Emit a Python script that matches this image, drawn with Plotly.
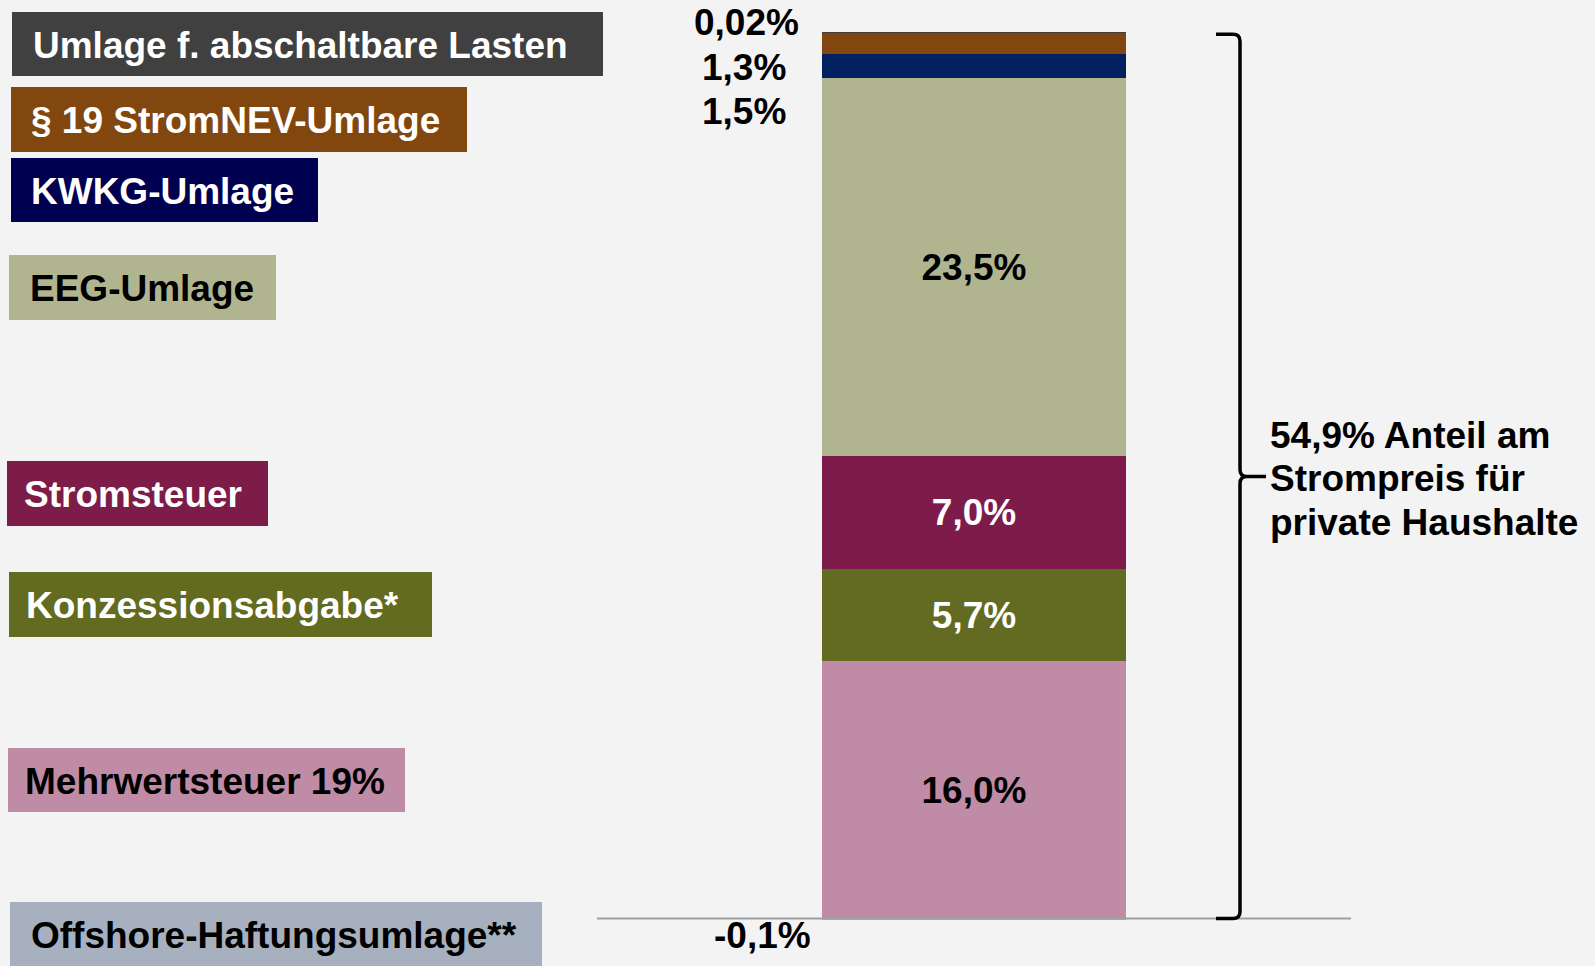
import plotly.graph_objects as go

W, H = 1595, 966

# ---------------- data ----------------
categories = ["Mehrwertsteuer 19%", "Konzessionsabgabe*", "Stromsteuer", "EEG-Umlage",
              "KWKG-Umlage", "§ 19 StromNEV-Umlage", "Umlage f. abschaltbare Lasten",
              "Offshore-Haftungsumlage**"]
values = [16.0, 5.7, 7.0, 23.5, 1.5, 1.3, 0.02, -0.1]
value_labels = ["16,0%", "5,7%", "7,0%", "23,5%", "1,5%", "1,3%", "0,02%", "-0,1%"]
total_label_lines = ["54,9% Anteil am", "Strompreis für", "private Haushalte"]

# ---------------- styles ----------------
bar_colors = ["#c08ba6", "#626b21", "#7d1c4a", "#b0b590", "#002060", "#82470e", "#404040", "#a6b0be"]
box_colors = ["#c08ba5", "#626b20", "#7d1b49", "#b0b590", "#000050", "#82470e", "#404040", "#a6b0be"]
text_colors = ["black", "white", "white", "black", "white", "white", "white", "black"]
inside = [True, True, True, True, False, False, False, False]
# legend boxes in pixels: left, top, right, bottom, text-x, text-center-y
boxes = [
    (8, 748, 405, 812, 24, 781),
    (9, 572, 432, 637, 25, 605),
    (7, 461, 268, 526, 23, 494),
    (9, 255, 276, 320, 29, 288),
    (11, 158, 318, 222, 30, 191),
    (11, 87, 467, 152, 30, 120),
    (12, 12, 603, 76, 32, 45),
    (10, 902, 542, 970, 30, 935),
]
# outside label positions: (x right edge px, y center px) for small segments
outside_pos = {4: (787, 111), 5: (787, 67), 6: (800, 22.5), 7: (812, 935)}

FONT = "Liberation Sans, Arial, sans-serif"
FS = 37

# pixel mapping of data axes
x_center_px, bar_px = 974, 304
y0_px, px_per_unit = 918.5, 16.1
xr = [-x_center_px / bar_px, (W - x_center_px) / bar_px]
yr = [-(H - y0_px) / px_per_unit, y0_px / px_per_unit]

def px2x(px):
    return (px - x_center_px) / bar_px

def py2y(py):
    return (y0_px - py) / px_per_unit

fig = go.Figure()
for i, (cat, v) in enumerate(zip(categories, values)):
    fig.add_trace(go.Bar(
        x=[0], y=[v], width=[1], name=cat,
        marker=dict(color=bar_colors[i], line=dict(width=0)),
        text=[f"<b>{value_labels[i]}</b>"] if inside[i] else None,
        textposition="inside" if inside[i] else "none",
        insidetextanchor="middle", textangle=0,
        textfont=dict(family=FONT, size=FS, color=text_colors[i]),
        showlegend=False, hoverinfo="name+y",
    ))

annotations = []
shapes = []

# legend boxes
for i, cat in enumerate(categories):
    l, t, r, b, tx, ty = boxes[i]
    shapes.append(dict(type="rect", xref="paper", yref="paper",
                       x0=l / W, x1=r / W, y0=1 - b / H, y1=1 - t / H,
                       fillcolor=box_colors[i], line=dict(width=0), layer="above"))
    annotations.append(dict(xref="paper", yref="paper", x=tx / W, y=1 - ty / H,
                            xanchor="left", yanchor="middle", showarrow=False, borderpad=0,
                            text=f"<b>{cat}</b>",
                            font=dict(family=FONT, size=FS, color=text_colors[i])))

# outside value labels
for i, (xp, yp) in outside_pos.items():
    annotations.append(dict(xref="x", yref="y", x=px2x(xp), y=py2y(yp),
                            xanchor="right", yanchor="middle", showarrow=False, borderpad=0,
                            text=f"<b>{value_labels[i]}</b>",
                            font=dict(family=FONT, size=FS, color="black")))

# baseline axis
shapes.append(dict(type="line", xref="x", yref="y", x0=px2x(597), x1=px2x(1351), y0=0, y1=0,
                   line=dict(color="#a0a0a0", width=2), layer="above"))

# curly brace spanning the net total
total = sum(values)
xv, xl, xt = px2x(1240), px2x(1216), px2x(1266)
ry, rx = 7 / px_per_unit, 7 / bar_px
mid = total / 2
path = (f"M {xl},{total} L {xv - rx},{total} Q {xv},{total} {xv},{total - ry} "
        f"L {xv},{mid + ry} Q {xv},{mid} {xv + rx},{mid} L {xt},{mid} "
        f"M {xv + rx},{mid} Q {xv},{mid} {xv},{mid - ry} "
        f"L {xv},{ry} Q {xv},0 {xv - rx},0 L {xl},0")
shapes.append(dict(type="path", xref="x", yref="y", path=path,
                   line=dict(color="black", width=3.5), layer="above"))

for line, yp in zip(total_label_lines, [435, 478.5, 522.5]):
    annotations.append(dict(xref="paper", yref="paper", x=1269 / W, y=1 - yp / H,
                            xanchor="left", yanchor="middle", showarrow=False, borderpad=0,
                            text=f"<b>{line}</b>",
                            font=dict(family=FONT, size=FS, color="black")))

fig.update_layout(
    width=W, height=H, barmode="relative",
    margin=dict(l=0, r=0, t=0, b=0, pad=0),
    paper_bgcolor="#f3f3f3", plot_bgcolor="#f3f3f3",
    xaxis=dict(range=xr, visible=False, fixedrange=True),
    yaxis=dict(range=yr, visible=False, fixedrange=True),
    shapes=shapes, annotations=annotations,
    bargap=0, uniformtext=dict(minsize=FS, mode="show"),
)

fig.write_html("out.html", config={"displayModeBar": False},
               post_script="document.body.style.margin='0';document.body.style.overflow='hidden';")
